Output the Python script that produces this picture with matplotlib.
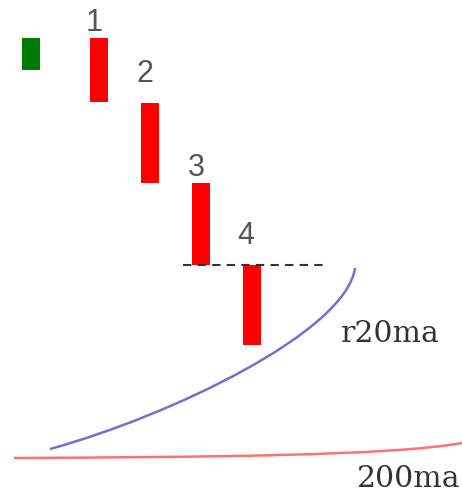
import matplotlib
matplotlib.use("Agg")
import matplotlib.pyplot as plt
from matplotlib.path import Path
from matplotlib.patches import PathPatch

# candles: centre x, top y, bottom y (picture coordinates, y grows downward)
candle_x = [31, 99, 150, 201, 252]
candle_top = [38, 38, 103, 183, 265]
candle_bottom = [70, 102, 183, 265, 345]
candle_colors = ["#007a00", "#ff0000", "#ff0000", "#ff0000", "#ff0000"]

labels = ["1", "2", "3", "4"]
label_x = [94, 145, 196, 246]
label_y = [23, 74, 168, 236]

# moving averages as cubic bezier curves (start, control, control, end)
ma20_x = [50, 170, 346, 355]
ma20_y = [449, 416, 332, 268]
ma200_x = [14, 200, 390, 462]
ma200_y = [458, 457, 456, 443]

fig = plt.figure(figsize=(4.62, 4.92), dpi=100)
ax = fig.add_axes([0, 0, 1, 1])
ax.set_xlim(0, 462)
ax.set_ylim(492, 0)
ax.axis("off")

heights = [b - t for t, b in zip(candle_top, candle_bottom)]
ax.bar(candle_x, heights, bottom=candle_top, width=18, color=candle_colors)

for s, x, y in zip(labels, label_x, label_y):
    ax.text(x, y, s, ha="center", va="center", fontsize=22,
            family="Liberation Sans", color="#555555")

ax.hlines(265, 183, 323, colors="#333333", linestyles=(0, (4, 3)), linewidth=1.5)

codes = [Path.MOVETO, Path.CURVE4, Path.CURVE4, Path.CURVE4]
ax.add_patch(PathPatch(Path(list(zip(ma20_x, ma20_y)), codes),
                       facecolor="none", edgecolor="#7070d0", linewidth=1.8))
ax.add_patch(PathPatch(Path(list(zip(ma200_x, ma200_y)), codes),
                       facecolor="none", edgecolor="#ff7070", linewidth=1.8))

ax.text(341, 342, "r20ma", fontsize=21.5, family="DejaVu Serif", color="#333333", va="baseline")
ax.text(357, 487, "200ma", fontsize=21.5, family="DejaVu Serif", color="#333333", va="baseline")

fig.savefig("out.png", dpi=100)
